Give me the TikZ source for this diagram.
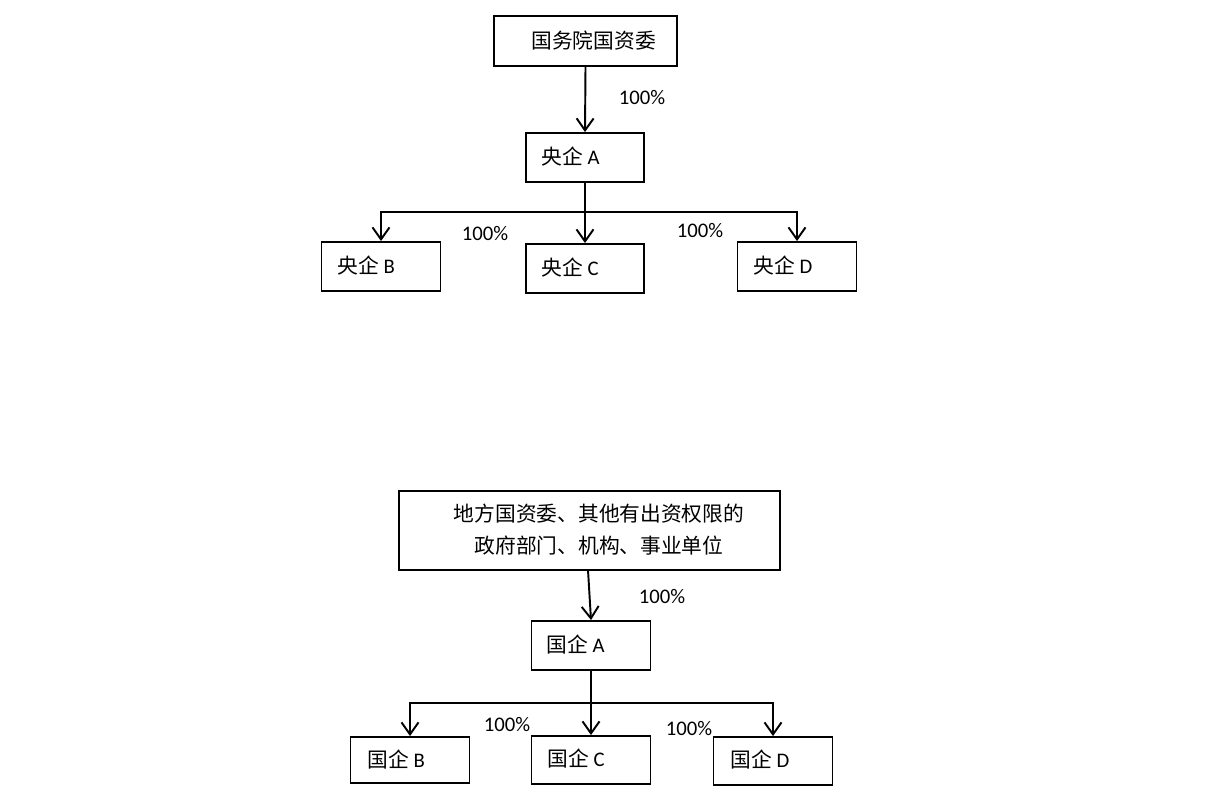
\documentclass[tikz,border=0pt]{standalone}
\usepackage{fontspec}
\setmainfont{Carlito}
\newfontfamily\cjkfont{Noto Sans CJK SC}
\newcommand\myzh[1]{{\cjkfont #1}}
\usetikzlibrary{arrows.meta,calc}
\begin{document}
\begin{tikzpicture}[x=0.02cm,y=-0.02cm,
  every node/.style={font=\fontsize{11.8}{14}\selectfont},
  box/.style={draw,line width=1.1pt,inner sep=0pt,minimum width=#1*0.02cm},
  txt/.style={anchor=west,inner sep=0pt},
  pct/.style={inner sep=0pt},
  link/.style={line width=1.1pt},
  arr/.style={line width=1.1pt,-{Straight Barb[length=0.24cm,width=0.34cm]}}]
\useasboundingbox[fill=white] (0,0) rectangle (1220,802);
% top tree
\node[box=183,minimum height=1cm] (gw) at (585.5,41) {};
\node[txt] (gwt) at (531,41) {\myzh{国务院国资委}};
\node[box=118,minimum height=0.98cm] (yA) at (585,157.5) {};
\node[txt] (yAt) at (541,157) {\myzh{央企} A};
\node[box=119,minimum height=0.98cm] (yB) at (381,266.5) {};
\node[txt] (yBt) at (337,266) {\myzh{央企} B};
\node[box=118,minimum height=0.98cm] (yC) at (585,268.5) {};
\node[txt] (yCt) at (541,268) {\myzh{央企} C};
\node[box=119,minimum height=0.98cm] (yD) at (797,266.5) {};
\node[txt] (yDt) at (753,266) {\myzh{央企} D};
\coordinate (barT) at (585,212);
\draw[arr] (gw.south) -- (yA.north);
\draw[link] (yA.south) -- (barT);
\draw[arr] (barT) -| (yB.north);
\draw[arr] (barT) -- (yC.north);
\draw[arr] (barT) -| (yD.north);
\node[pct] (p1) at (642,98) {100\%};
\node[pct] (p2) at (485,234) {100\%};
\node[pct] (p3) at (700,231) {100\%};
% bottom tree
\node[box=381,minimum height=1.58cm] (big) at (589.5,530.5) {};
\node[inner sep=0pt] (bigt1) at (599,514) {\myzh{地方国资委、其他有出资权限的}};
\node[inner sep=0pt] (bigt2) at (599,546) {\myzh{政府部门、机构、事业单位}};
\node[box=119,minimum height=0.98cm] (gA) at (591,645.5) {};
\node[txt] (gAt) at (546,645) {\myzh{国企} A};
\node[box=119,minimum height=0.92cm] (gB) at (410,760) {};
\node[txt] (gBt) at (367,760) {\myzh{国企} B};
\node[box=119,minimum height=0.96cm] (gC) at (591,760) {};
\node[txt] (gCt) at (547,759) {\myzh{国企} C};
\node[box=119,minimum height=0.96cm] (gD) at (773,761) {};
\node[txt] (gDt) at (730,760) {\myzh{国企} D};
\coordinate (bigout) at (588,570);
\coordinate (barB) at (591,703);
\draw[arr] (bigout) -- (gA.north);
\draw[link] (gA.south) -- (barB);
\draw[arr] (barB) -| (gB.north);
\draw[arr] (barB) -- (gC.north);
\draw[arr] (barB) -| (gD.north);
\node[pct] (p4) at (662,597) {100\%};
\node[pct] (p5) at (507,725) {100\%};
\node[pct] (p6) at (689,729) {100\%};
\end{tikzpicture}
\end{document}
